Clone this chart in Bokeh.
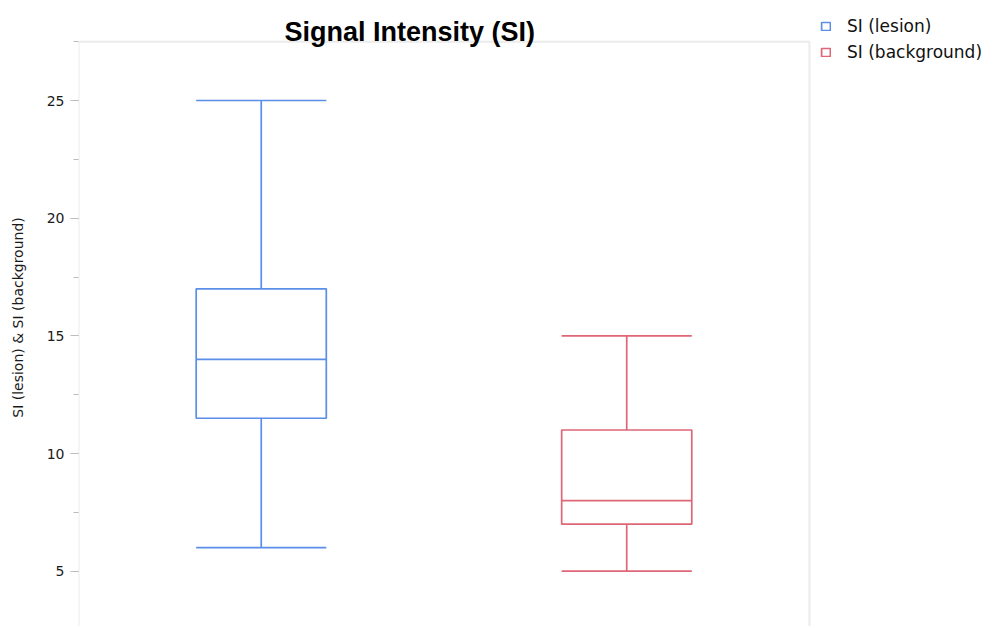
from bokeh.plotting import figure
from bokeh.models import (Range1d, SingleIntervalTicker, Legend, LegendItem,
                          ColumnDataSource, BoxAnnotation, Label)
from bokeh.embed import file_html
from bokeh.resources import INLINE

# ---- data ----
categories = ["SI (lesion)", "SI (background)"]
whisker_low = [6, 5]
q1 = [11.5, 7]
median = [14, 8]
q3 = [17, 11]
whisker_high = [25, 15]
colors = ["#5B8EE8", "#DE6676"]

title_text = "Signal Intensity (SI)"
y_label = "SI (lesion) & SI (background)"

FONT = "DejaVu Sans"
GRAY = "#BDBDBD"

n = len(categories)
xpos = [i + 0.5 for i in range(n)]

p = figure(x_range=Range1d(0, 2.509), y_range=Range1d(2.65, 28.91),
           width=995, height=626, output_backend="svg", toolbar_location=None,
           x_axis_location=None, min_border_left=78, min_border_right=0,
           min_border_top=8, min_border_bottom=0)
p.grid.visible = False
p.outline_line_color = None
p.background_fill_color = "white"
p.title.standoff = 0

yax = p.yaxis[0]
yax.ticker = SingleIntervalTicker(interval=5, num_minor_ticks=2)
yax.axis_line_color = None
yax.major_tick_line_color = GRAY
yax.minor_tick_line_color = GRAY
yax.major_tick_out = 8
yax.major_tick_in = 0
yax.minor_tick_out = 5
yax.minor_tick_in = 0
yax.major_label_text_font = FONT
yax.major_label_text_font_size = "14px"
yax.major_label_text_color = "#1a1a1a"
yax.major_label_standoff = 6
yax.axis_label = y_label
yax.axis_label_text_font = FONT
yax.axis_label_text_font_size = "14px"
yax.axis_label_text_font_style = "normal"
yax.axis_label_text_color = "#1a1a1a"
yax.axis_label_standoff = 18

# plot-area border (left, top, right) of the original chart
border = BoxAnnotation(left=0, right=n, top=27.5, bottom=0,
                       fill_color=None, fill_alpha=0,
                       line_color=GRAY, line_width=2)
p.add_layout(border)

# title
title = Label(x=206, y=595, x_units="screen", y_units="screen", text=title_text,
              text_font="Liberation Sans", text_font_style="bold",
              text_font_size="27px", text_color="#000000",
              text_baseline="alphabetic", text_align="left")
p.add_layout(title)

BOXW = 0.356
LW = 1.7
items = []
for i, cat in enumerate(categories):
    s = ColumnDataSource(dict(x=[xpos[i]], lo=[whisker_low[i]], q1=[q1[i]],
                              med=[median[i]], q3=[q3[i]], hi=[whisker_high[i]]))
    c = colors[i]
    p.segment(x0="x", y0="lo", x1="x", y1="q1", source=s, line_color=c, line_width=LW)
    p.segment(x0="x", y0="q3", x1="x", y1="hi", source=s, line_color=c, line_width=LW)
    box = p.vbar(x="x", bottom="q1", top="q3", width=BOXW, source=s,
                 fill_color=None, line_color=c, line_width=LW)
    p.vbar(x="x", bottom="med", top="med", width=BOXW, source=s,
           fill_color=None, line_color=c, line_width=LW)
    p.vbar(x="x", bottom="lo", top="lo", width=BOXW, source=s,
           fill_color=None, line_color=c, line_width=LW)
    p.vbar(x="x", bottom="hi", top="hi", width=BOXW, source=s,
           fill_color=None, line_color=c, line_width=LW)
    items.append(LegendItem(label=cat, renderers=[box]))

legend = Legend(items=items, location=(742, 564), orientation="vertical",
                label_text_font=FONT, label_text_font_size="17px",
                label_text_color="#111111", glyph_width=11, glyph_height=10,
                label_standoff=16, spacing=6, padding=5, margin=0,
                border_line_color=None, background_fill_alpha=0)
p.add_layout(legend, "center")

open("out.html", "w").write(file_html(p, INLINE))
